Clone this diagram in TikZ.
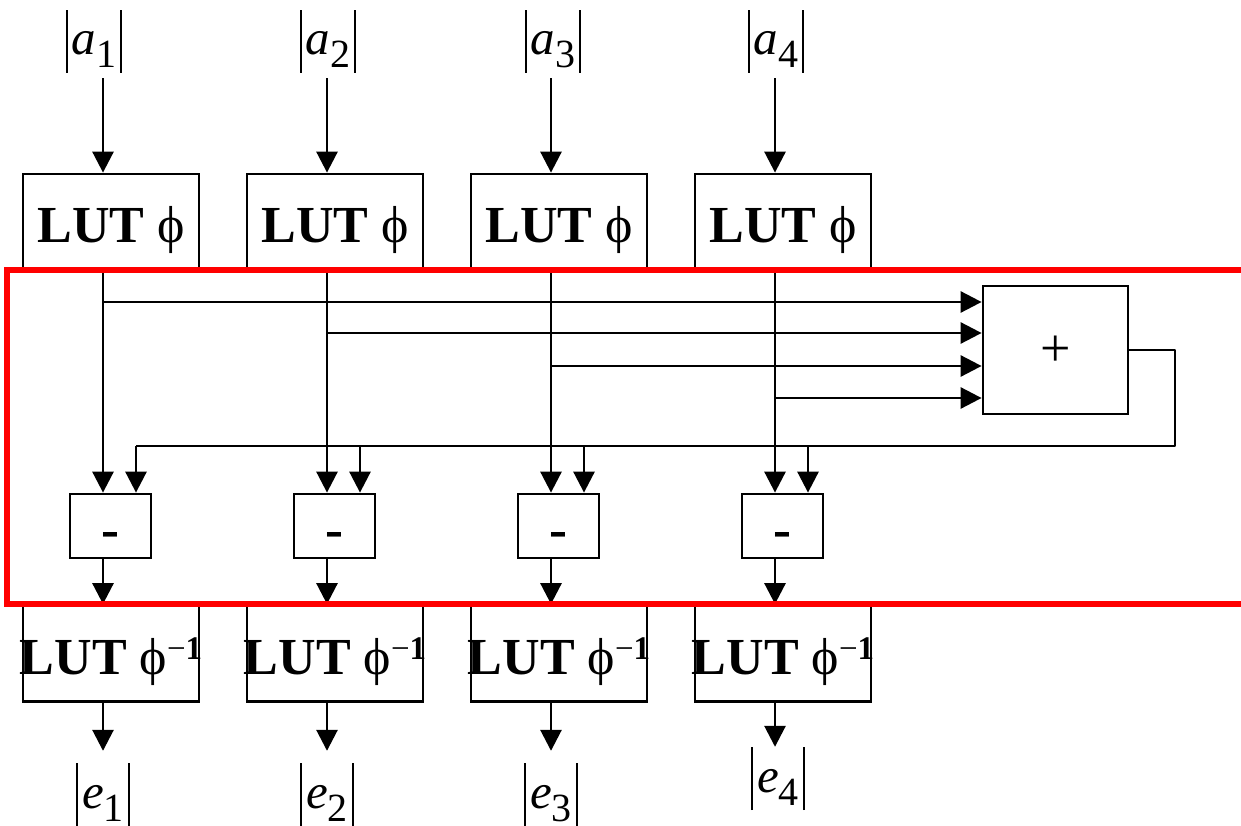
\documentclass[tikz,border=0pt]{standalone}
\usepackage{fontspec}
\setmainfont{Liberation Serif}
\usetikzlibrary{arrows.meta,calc}
\newcommand\absl[2]{\rule[-18pt]{2pt}{63pt}\hspace{4pt}{\itshape #1}\raisebox{-13pt}{\fontsize{40}{40}\selectfont #2}\hspace{4pt}\rule[-18pt]{2pt}{63pt}}
\newcommand\lutfwd{{\bfseries LUT} ϕ}
\newcommand\lutinv{\makebox[0pt]{{\bfseries LUT} ϕ\raisebox{15pt}{\fontsize{33}{33}\selectfont −\textbf{1}}}}
\begin{document}
\begin{tikzpicture}[x=1pt,y=-1pt,
  ln/.style={line width=2.8pt},
  arr/.style={ln, -{Triangle[length=21pt,width=21pt]}},
  lutbox/.style={draw, ln, minimum width=176pt, minimum height=96pt, inner sep=0pt, text height=42pt, text depth=0pt, font=\fontsize{52}{52}\selectfont},
  subbox/.style={draw, ln, minimum width=81pt, minimum height=64pt, inner sep=0pt, text height=42pt, text depth=0pt, font=\fontsize{54}{54}\selectfont\bfseries},
  addbox/.style={draw, ln, minimum width=145pt, minimum height=128pt, inner sep=0pt, text height=32pt, text depth=0pt, font=\fontsize{54}{54}\selectfont},
  lab/.style={inner sep=0pt, anchor=base, font=\fontsize{49}{49}\selectfont},
  frame/.style={draw=red, line width=6pt}
]
\useasboundingbox (0,0) rectangle (1241,826);
\clip (0,0) rectangle (1241,826);
\foreach \i/\x/\ax/\ex/\ey in {1/103/94/103/808, 2/327/328/327/808, 3/551/553/551/808, 4/775/776/778/792} {
  \coordinate (p\i) at (\x,0);
  \coordinate (q\i) at (\x+33,0);
  \node[lab] (a\i) at (\ax,55) {\absl{a}{\i}};
  \node[lutbox] (lut\i) at (\x+8,222) {\lutfwd};
  \node[subbox] (m\i) at (\x+7.5,526) {-};
  \node[lutbox] (inv\i) at (\x+8,653.5) {\lutinv};
  \node[lab] (e\i) at (\ex,\ey) {\absl{e}{\i}};
}
\node[addbox] (add) at (1055.5,350) {+};
\coordinate (h1) at (0,302);
\coordinate (h2) at (0,333);
\coordinate (h3) at (0,366);
\coordinate (h4) at (0,398);
\coordinate (fb) at (1175,446);
\foreach \i/\s in {1/12,2/12,3/12,4/0} {
  \draw[arr, shorten <=5pt] (a\i.south -| p\i) -- (lut\i.north -| p\i);
  \draw[arr] (lut\i.south -| p\i) -- (m\i.north -| p\i);
  \draw[arr] (p\i |- h\i) -- (add.west |- h\i);
  \draw[arr] (fb -| q\i) -- (m\i.north -| q\i);
  \draw[arr] (m\i.south -| p\i) -- (inv\i.north -| p\i);
  \draw[arr, shorten >=\s pt] (inv\i.south -| p\i) -- (e\i.north -| p\i);
}
\draw[ln, line join=round] (add.east) -| (fb) -- (fb -| q1);
\draw[frame] (7,270) rectangle (1260,604);
\end{tikzpicture}
\end{document}
